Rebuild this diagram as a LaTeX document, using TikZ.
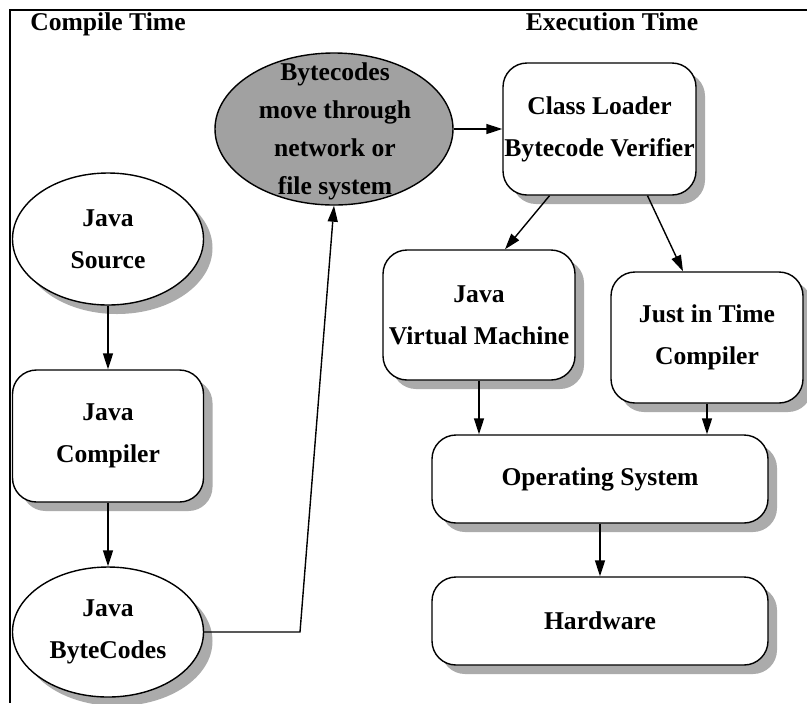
\documentclass[tikz,border=0pt]{standalone}
\usepackage{fontspec}
\setmainfont{Liberation Serif}
\usetikzlibrary{arrows.meta,shapes.geometric,shadows,calc}
\begin{document}
\begin{tikzpicture}[x=0.5pt,y=-0.5pt,
  every node/.style={font=\fontsize{12.8}{21}\selectfont\bfseries, inner sep=0pt},
  shad/.style={drop shadow={shadow xshift=4.5pt, shadow yshift=-4.5pt, fill=black!33, opacity=1}},
  ell/.style={ellipse, draw, fill=white, line width=0.7pt, shad, align=center, minimum width=95.5pt, minimum height=66pt},
  rbox/.style={rectangle, rounded corners=12pt, draw, fill=white, line width=0.7pt, shad, align=center},
  arr/.style={-{Triangle[length=8pt,width=5pt]}, line width=0.7pt},
  netell/.style={ellipse, draw, fill=black!37, line width=0.7pt, minimum width=119pt, minimum height=76pt},
]
\useasboundingbox (0,0) rectangle (807,703);
\fill[white] (0,0) rectangle (807,703);
\draw[line width=0.7pt] (807,10) -- (10,10) -- (10,703);

\node[anchor=base] (ct) at (108,30) {Compile Time};
\node[anchor=base] (et) at (612,30) {Execution Time};

\node[ell] (src) at (108,239) {Java\\Source};
\node[rbox, minimum width=95.5pt, minimum height=66pt] (jc) at (108,436) {Java\\Compiler};
\node[ell, minimum height=65pt] (bc) at (108,632) {Java\\ByteCodes};

\node[netell] (net) at (334,129) {};
\node[align=center, font=\fontsize{12.8}{19}\selectfont\bfseries] (nett) at (335,131) {Bytecodes\\move through\\network or\\file system};

\node[rbox, minimum width=96.5pt, minimum height=66pt] (cl) at (599.5,129) {Class Loader\\Bytecode Verifier};
\node[rbox, minimum width=96pt, minimum height=65pt] (jvm) at (479,315) {Java\\Virtual Machine};
\node[rbox, minimum width=96pt, minimum height=65.5pt] (jit) at (707,337.5) {Just in Time\\Compiler};
\node[rbox, minimum width=168pt, minimum height=44pt] (os) at (600,479) {Operating System};
\node[rbox, minimum width=168pt, minimum height=44pt] (hw) at (600,621) {Hardware};

\coordinate (bend) at (300,632);
\draw[arr] (src.south) -- (jc.north);
\draw[arr] (jc.south) -- (bc.north);
\draw[arr] (bc.east) -- (bend) -- (net.south);
\draw[arr] (net.east) -- (cl.west);
\draw[arr] ([xshift=-25pt]cl.south) -- ([xshift=13pt]jvm.north);
\draw[arr] ([xshift=24pt]cl.south) -- ([xshift=-12pt]jit.north);
\draw[arr] (jvm.south) -- (jvm.south |- os.north);
\draw[arr] (jit.south) -- (jit.south |- os.north);
\draw[arr] (os.south) -- (hw.north);
\end{tikzpicture}
\end{document}
